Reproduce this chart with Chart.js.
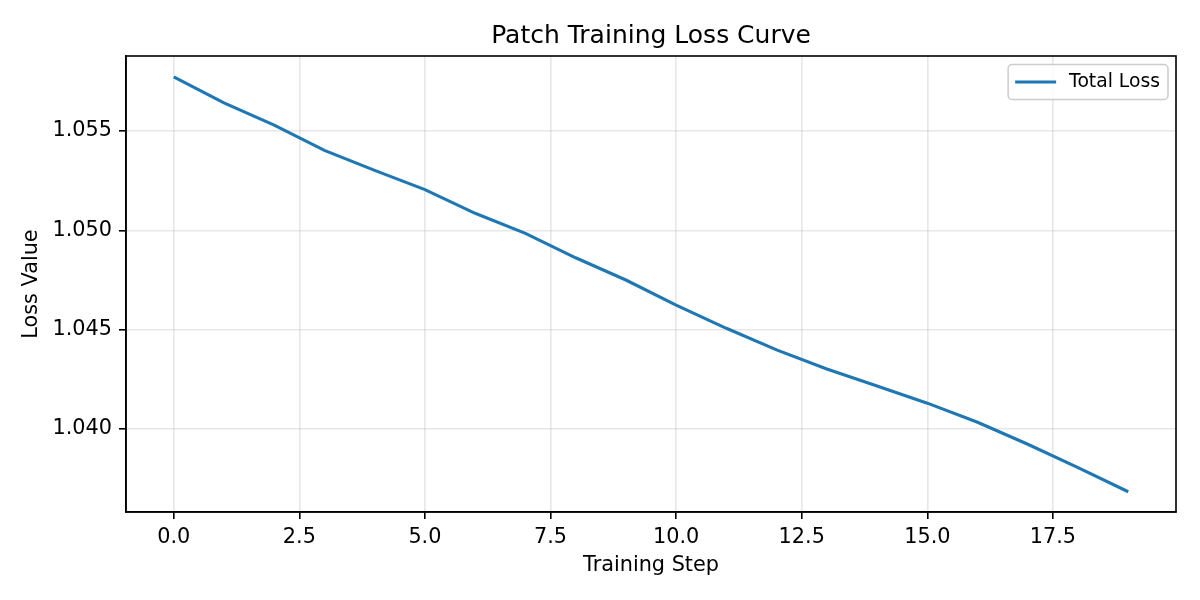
<!DOCTYPE html>
<html>
<head>
<meta charset="utf-8">
<script src="https://cdn.jsdelivr.net/npm/chart.js@4.4.0/dist/chart.umd.min.js"></script>
<style>
  html, body { margin: 0; padding: 0; background: #fff; }
  #wrap { width: 1200px; height: 600px; }
</style>
</head>
<body>
<div id="wrap"><canvas id="c" width="1200" height="600"></canvas></div>
<script>
const chartTitle = 'Patch Training Loss Curve';
const xLabel = 'Training Step';
const yLabel = 'Loss Value';
const seriesName = 'Total Loss';
const steps = [0, 1, 2, 3, 4, 5, 6, 7, 8, 9, 10, 11, 12, 13, 14, 15, 16, 17, 18, 19];
const totalLoss = [1.05773, 1.05642, 1.05530, 1.05403, 1.05302, 1.05205, 1.05086, 1.04985, 1.04862, 1.04750,
                   1.04624, 1.04507, 1.04398, 1.04302, 1.04216, 1.04130, 1.04034, 1.03923, 1.03805, 1.03684];
const xTicks = [0, 2.5, 5, 7.5, 10, 12.5, 15, 17.5];
const yTicks = [1.040, 1.045, 1.050, 1.055];

const FONT = "'DejaVu Sans', 'Liberation Sans', sans-serif";
const LINE_COLOR = '#1f77b4';
Chart.defaults.font.family = FONT;
Chart.defaults.color = '#000';

const frameAndLegend = {
  id: 'frameAndLegend',
  afterDatasetsDraw(chart) {
    const ctx = chart.ctx;
    const a = chart.chartArea;
    ctx.save();
    // full frame
    ctx.strokeStyle = '#000';
    ctx.lineWidth = 1.6;
    ctx.strokeRect(a.left, a.top, a.right - a.left, a.bottom - a.top);
    // legend
    const ds = chart.data.datasets[0];
    ctx.font = '18.75px ' + FONT;
    const tw = ctx.measureText(ds.label).width;
    const boxW = 61 + tw + 8;
    const boxH = 35;
    const bx = a.right - 8 - boxW;
    const by = a.top + 8.5;
    const r = 4;
    ctx.beginPath();
    ctx.moveTo(bx + r, by);
    ctx.lineTo(bx + boxW - r, by);
    ctx.arcTo(bx + boxW, by, bx + boxW, by + r, r);
    ctx.lineTo(bx + boxW, by + boxH - r);
    ctx.arcTo(bx + boxW, by + boxH, bx + boxW - r, by + boxH, r);
    ctx.lineTo(bx + r, by + boxH);
    ctx.arcTo(bx, by + boxH, bx, by + boxH - r, r);
    ctx.lineTo(bx, by + r);
    ctx.arcTo(bx, by, bx + r, by, r);
    ctx.closePath();
    ctx.fillStyle = 'rgba(255,255,255,0.8)';
    ctx.fill();
    ctx.strokeStyle = '#cccccc';
    ctx.lineWidth = 1.5;
    ctx.stroke();
    const ly = by + boxH / 2;
    ctx.beginPath();
    ctx.moveTo(bx + 7, ly);
    ctx.lineTo(bx + 48, ly);
    ctx.strokeStyle = ds.borderColor;
    ctx.lineWidth = 3.1;
    ctx.stroke();
    ctx.fillStyle = '#000';
    ctx.textAlign = 'left';
    ctx.textBaseline = 'middle';
    ctx.fillText(ds.label, bx + 61, ly);
    ctx.restore();
  }
};

new Chart(document.getElementById('c'), {
  type: 'line',
  data: {
    datasets: [{
      label: seriesName,
      data: steps.map((s, i) => ({ x: s, y: totalLoss[i] })),
      borderColor: LINE_COLOR,
      backgroundColor: LINE_COLOR,
      borderWidth: 3.1,
      pointRadius: 0,
      tension: 0,
      fill: false
    }]
  },
  options: {
    responsive: false,
    devicePixelRatio: 1,
    animation: false,
    layout: { padding: { left: 0, right: 24, top: 0, bottom: 0 } },
    plugins: {
      legend: { display: false },
      tooltip: { enabled: false },
      title: {
        display: true,
        fullSize: false,
        text: chartTitle,
        color: '#000',
        font: { size: 25, weight: 'normal', family: FONT },
        padding: { top: 21.5, bottom: 4.5 }
      }
    },
    scales: {
      x: {
        type: 'linear',
        min: -0.95,
        max: 19.95,
        afterBuildTicks: (scale) => { scale.ticks = xTicks.map(v => ({ value: v })); },
        afterFit: (scale) => { scale.height = 88; },
        ticks: {
          autoSkip: false,
          maxRotation: 0,
          padding: 6.5,
          color: '#000',
          font: { size: 20.8, family: FONT },
          callback: (v) => Number(v).toFixed(1)
        },
        grid: {
          color: 'rgba(176,176,176,0.3)',
          lineWidth: 1.6,
          drawTicks: true,
          tickLength: 7,
          tickColor: '#000',
          tickWidth: 1.6
        },
        border: { display: true, color: '#000', width: 1.6 },
        title: {
          display: true,
          text: xLabel,
          color: '#000',
          font: { size: 20.8, family: FONT },
          padding: { top: 0, bottom: 21.5 }
        }
      },
      y: {
        type: 'linear',
        min: 1.03582,
        max: 1.05878,
        afterBuildTicks: (scale) => { scale.ticks = yTicks.map(v => ({ value: v })); },
        afterFit: (scale) => { scale.width = 126; },
        ticks: {
          autoSkip: false,
          padding: 7,
          color: '#000',
          font: { size: 20.8, family: FONT },
          callback: (v) => Number(v).toFixed(3)
        },
        grid: {
          color: 'rgba(176,176,176,0.3)',
          lineWidth: 1.6,
          drawTicks: true,
          tickLength: 7,
          tickColor: '#000',
          tickWidth: 1.6
        },
        border: { display: true, color: '#000', width: 1.6 },
        title: {
          display: true,
          text: yLabel,
          color: '#000',
          font: { size: 20.8, family: FONT },
          padding: { top: 19.5, bottom: 0 }
        }
      }
    }
  },
  plugins: [frameAndLegend]
});
</script>
</body>
</html>
